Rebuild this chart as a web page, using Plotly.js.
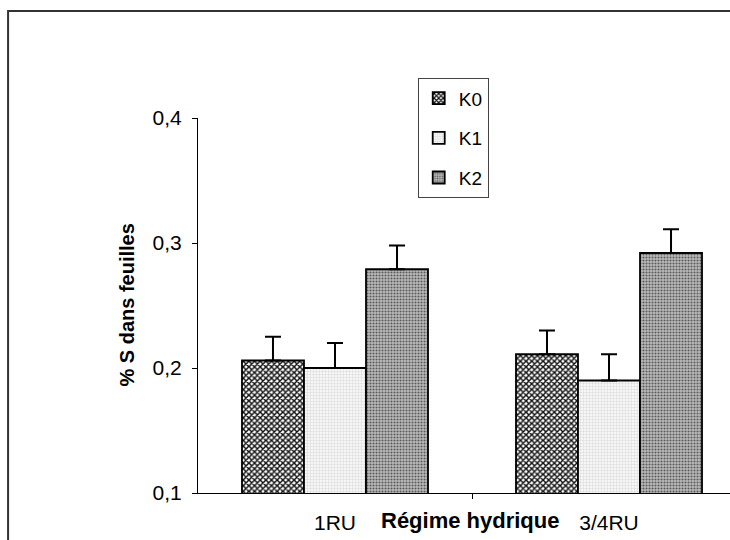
<!DOCTYPE html>
<html>
<head>
<meta charset="utf-8">
<script src="https://cdn.plot.ly/plotly-3.0.1.min.js"></script>
<style>html,body{margin:0;padding:0;background:#fff;}#chart{width:730px;height:540px;}</style>
</head>
<body>
<div id="chart"></div>
<script>
// Data
var categories = ['1RU', '3/4RU'];
var seriesNames = ['K0', 'K1', 'K2'];
var valuesK0 = [0.206, 0.211];
var valuesK1 = [0.200, 0.190];
var valuesK2 = [0.279, 0.292];
var errorsK0 = [0.019, 0.019];
var errorsK1 = [0.020, 0.021];
var errorsK2 = [0.019, 0.019];
var yTicks = [0.1, 0.2, 0.3, 0.4];
var xTitle = 'Régime hydrique';
var yTitle = '% S dans feuilles';

var FONT = 'Arial, "Liberation Sans", sans-serif';
var xIdx = categories.map(function (c, i) { return i; });

var styles = [
  {bg: '#ffffff', fg: '#111111', shape: 'x', size: 4, solidity: 0.6},
  {bg: '#f6f6f6', fg: '#c8c8c8', shape: '+', size: 3, solidity: 0.2},
  {bg: '#bcbcbc', fg: '#5a5a5a', shape: '.', size: 3, solidity: 0.4}
];
var vals = [valuesK0, valuesK1, valuesK2];
var errs = [errorsK0, errorsK1, errorsK2];

var traces = seriesNames.map(function (name, k) {
  var s = styles[k];
  return {
    type: 'bar',
    name: name,
    legendgroup: name,
    x: xIdx,
    y: vals[k],
    base: 0,
    marker: {
      color: s.bg,
      line: {color: '#000000', width: 1.8},
      pattern: {shape: s.shape, fgcolor: s.fg, bgcolor: s.bg, size: s.size, solidity: s.solidity, fillmode: 'replace'}
    },
    error_y: {type: 'data', symmetric: false, array: errs[k], arrayminus: errs[k].map(function () { return 0; }),
      color: '#000000', thickness: 2, width: 8},
    hoverinfo: 'skip'
  };
});

var layout = {
  width: 730,
  height: 540,
  margin: {l: 198, r: 0, t: 118, b: 47, pad: 0},
  paper_bgcolor: '#ffffff',
  plot_bgcolor: '#ffffff',
  separators: ',.',
  font: {family: FONT, size: 20, color: '#000000'},
  barmode: 'group',
  bargap: 0.321,
  bargroupgap: 0,
  showlegend: true,
  legend: {
    x: 0.413, y: 1.106, xanchor: 'left', yanchor: 'top',
    bordercolor: '#444444', borderwidth: 1, bgcolor: '#ffffff',
    font: {family: FONT, size: 19, color: '#000000'},
    tracegroupgap: 12, traceorder: 'grouped'
  },
  xaxis: {
    range: [-0.5, 1.4416],
    tickmode: 'array', tickvals: xIdx, ticktext: categories,
    ticks: '', showgrid: false, zeroline: false,
    showline: true, linecolor: '#000000', linewidth: 1,
    ticklabelstandoff: 11,
    tickfont: {family: FONT, size: 21, color: '#000000'},
    minor: {tickmode: 'array', tickvals: [0.5], ticks: 'outside', ticklen: 5, tickcolor: '#000000', tickwidth: 1},
    fixedrange: true
  },
  yaxis: {
    range: [0.1, 0.4],
    tickmode: 'array', tickvals: yTicks, ticktext: yTicks.map(function (v) { return v.toFixed(1).replace('.', ','); }),
    ticks: 'outside', ticklen: 5, tickcolor: '#000000', tickwidth: 1,
    showgrid: false, zeroline: false,
    showline: true, linecolor: '#000000', linewidth: 1,
    ticklabelstandoff: 6,
    tickfont: {family: FONT, size: 21, color: '#000000'},
    fixedrange: true
  },
  annotations: [
    {text: '<b>' + xTitle + '</b>', xref: 'paper', yref: 'paper', x: 0.511, y: -0.072,
      xanchor: 'center', yanchor: 'middle', showarrow: false, font: {family: FONT, size: 22, color: '#000000'}},
    {text: '<b>' + yTitle + '</b>', xref: 'paper', yref: 'paper', x: -0.1353, y: 0.5,
      xanchor: 'center', yanchor: 'middle', textangle: -90, showarrow: false, font: {family: FONT, size: 20, color: '#000000'}}
  ],
  shapes: [
    {type: 'rect', xref: 'paper', yref: 'paper', x0: -0.357, x1: 1.2, y0: -0.3, y1: 1.2853,
      line: {color: '#333333', width: 2}, fillcolor: 'rgba(0,0,0,0)', layer: 'below'}
  ]
};

Plotly.newPlot('chart', traces, layout, {displayModeBar: false, staticPlot: true});
</script>
</body>
</html>
